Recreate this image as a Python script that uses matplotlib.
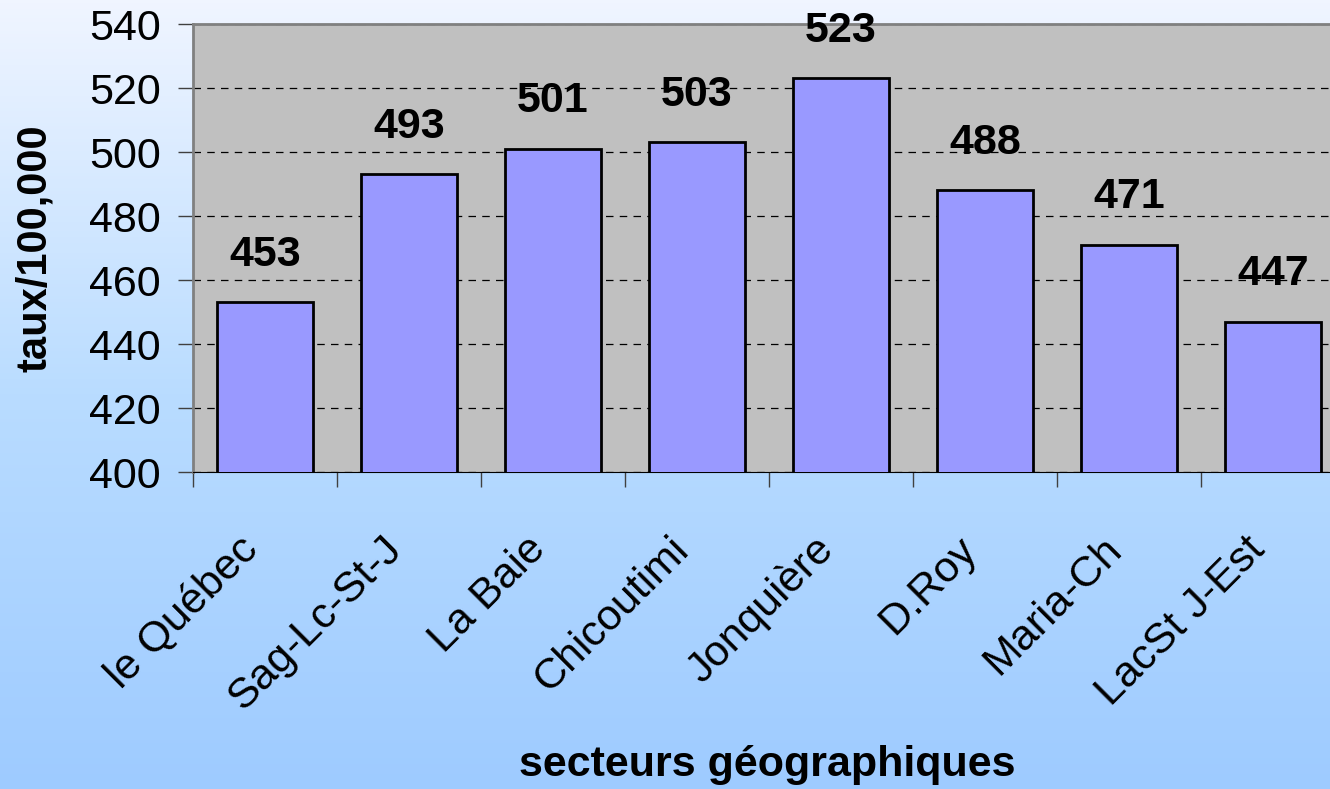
import numpy as np
import matplotlib.pyplot as plt
import matplotlib.transforms as mtransforms
from matplotlib.colors import LinearSegmentedColormap

plt.rcParams['font.family'] = ['Liberation Sans', 'DejaVu Sans']

secteurs = ['le Québec', 'Sag-Lc-St-J', 'La Baie', 'Chicoutimi',
            'Jonquière', 'D.Roy', 'Maria-Ch', 'LacSt J-Est']
taux = [453, 493, 501, 503, 523, 488, 471, 447]
y_ticks = [400, 420, 440, 460, 480, 500, 520, 540]

fig = plt.figure(figsize=(13.3, 7.89), dpi=100)

# fond en dégradé
bg = fig.add_axes([0, 0, 1, 1], zorder=-1)
cmap = LinearSegmentedColormap.from_list('fond', ['#F0F5FF', '#B9DCFF', '#9ECBFF'])
grad = np.linspace(0, 1, 256).reshape(-1, 1)
bg.imshow(grad, aspect='auto', cmap=cmap, extent=[0, 1, 0, 1], origin='upper')
bg.axis('off')

ax = fig.add_axes([193 / 1330, 1 - 472 / 789, 1152 / 1330, 448 / 789])
ax.set_facecolor('#C0C0C0')

x = np.arange(len(secteurs))
bars = ax.bar(x, taux, width=0.66, color='#9999FF', edgecolor='black',
              linewidth=2, zorder=3)

for xi, v in zip(x, taux):
    ax.annotate(str(v), (xi, v), xytext=(0, 20), textcoords='offset points',
                ha='center', va='bottom', fontsize=31, fontweight='bold',
                zorder=4)

ax.set_xlim(-0.5, len(secteurs) - 0.5)
ax.set_ylim(400, 540)
ax.set_yticks(y_ticks)
ax.set_yticklabels([str(t) for t in y_ticks], fontsize=31)
ax.grid(axis='y', color='black', linestyle=(0, (6, 5)), linewidth=0.9, zorder=1)

# graduations entre les catégories, étiquettes inclinées sous chaque barre
ax.set_xticks(np.arange(len(secteurs) + 1) - 0.5)
ax.set_xticklabels([])
ax.tick_params(axis='x', length=11, color='#404040', width=1)
ax.tick_params(axis='y', length=11, color='#404040', width=1, pad=12)

shift = mtransforms.ScaledTranslation(-28 / 100, -57 / 100, fig.dpi_scale_trans)
for xi, nom in zip(x, secteurs):
    ax.text(xi, 0, nom, transform=ax.get_xaxis_transform() + shift,
            rotation=45, rotation_mode='anchor', ha='right', va='top',
            fontsize=31, clip_on=False)

for side in ['left', 'top']:
    ax.spines[side].set_color('#808080')
    ax.spines[side].set_linewidth(2)
ax.spines['bottom'].set_color('black')
ax.spines['right'].set_visible(False)

ax.set_ylabel('taux/100,000', fontsize=30, fontweight='bold')
ax.yaxis.set_label_coords((35 - 193) / 1152, 0.5)
ax.set_xlabel('secteurs géographiques', fontsize=31, fontweight='bold')
ax.xaxis.set_label_coords((767 - 193) / 1152, (472 - 765) / 448)
ax.xaxis.label.set_va('center')
ax.yaxis.label.set_va('center')

fig.savefig('out.png', dpi=100)
